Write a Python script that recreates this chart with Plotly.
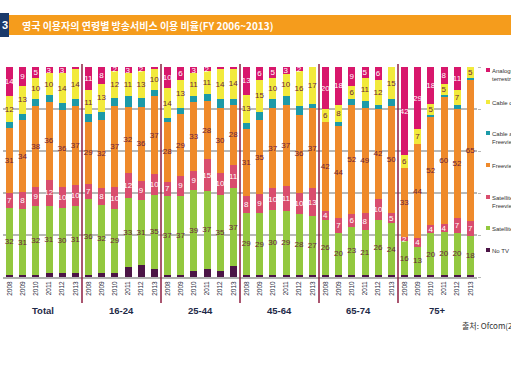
import plotly.graph_objects as go

groups = ["Total", "16-24", "25-44", "45-64", "65-74", "75+"]
years = ["2008", "2009", "2010", "2011", "2012", "2013"]

no_tv = [1, 1, 1, 2, 2, 2,  1, 2, 2, 5, 6, 4,  1, 1, 3, 4, 3, 5,  1, 1, 1, 1, 1, 1,  1, 1, 1, 1, 1, 1,  1, 1, 1, 1, 1, 1]
satellite = [32, 31, 32, 31, 30, 31,  36, 32, 29, 33, 31, 35,  37, 37, 39, 37, 35, 37,  29, 29, 30, 29, 28, 27,  26, 20, 23, 21, 26, 24,  16, 13, 20, 20, 20, 18]
sat_freeview = [7, 8, 9, 12, 10, 10,  7, 8, 10, 12, 9, 10,  7, 9, 9, 15, 10, 11,  8, 9, 10, 11, 10, 13,  4, 7, 6, 8, 10, 5,  2, 4, 4, 4, 7, 7]
freeview = [31, 34, 38, 36, 36, 37,  29, 32, 37, 32, 36, 37,  28, 29, 33, 28, 30, 28,  31, 35, 37, 37, 36, 37,  42, 44, 52, 49, 42, 50,  33, 44, 52, 60, 52, 65]
cable_freeview = [3, 3, 3, 3, 3, 3,  4, 4, 4, 5, 4, 3,  2, 3, 3, 3, 4, 3,  3, 4, 4, 4, 4, 2,  0, 2, 3, 3, 2, 3,  0, 0, 1, 1, 2, 1]
cable_only = [12, 13, 10, 10, 14, 14,  11, 13, 12, 11, 13, 10,  14, 13, 11, 11, 14, 14,  13, 15, 10, 10, 16, 17,  6, 8, 6, 11, 12, 15,  6, 7, 5, 5, 7, 5]
analogue = [14, 9, 5, 3, 3, 1,  11, 8, 2, 3, 2, 1,  10, 6, 3, 2, 1, 1,  13, 6, 5, 3, 2, 0,  20, 18, 9, 5, 6, 0,  42, 29, 18, 8, 11, 0]

series = [
    ("No TV", no_tv, "#4B1446", False, None),
    ("Satellite", satellite, "#93C83F", True, "#6B1E3C"),
    ("Satellite and<br>Freeview", sat_freeview, "#D94D6E", True, "#FFFFFF"),
    ("Freeview", freeview, "#EF8A2B", True, "#6B1E3C"),
    ("Cable and<br>Freeview", cable_freeview, "#1C9AA8", False, None),
    ("Cable only", cable_only, "#F2EA3C", True, "#6B1E3C"),
    ("Analogue<br>terrestrial", analogue, "#D8176C", True, "#FFFFFF"),
]
# legend row positions (pixel y of the first text line), bottom series first
legend_rows = [250, 228, 197, 165, 133, 102, 70]

cats = [f"{g} {y}" for g in groups for y in years]
ticktext = [y for g in groups for y in years]

FONT = "Arial, Liberation Sans, sans-serif"
fig = go.Figure()
for name, vals, color, labeled, tcol in series:
    text = [str(v) if (labeled and v >= 2) else "" for v in vals]
    fig.add_trace(go.Bar(
        x=cats, y=vals, name=name.replace("<br>", " "), marker=dict(color=color, line=dict(width=0)),
        text=text, textposition="inside", insidetextanchor="middle", textangle=0,
        textfont=dict(size=8, color=tcol or "#6B1E3C", family=FONT),
        showlegend=False, hoverinfo="skip",
    ))

W, H = 511, 365
L, R, T, B = 3, 34, 67, 88
pw, ph = W - L - R, H - T - B

def px(xp):
    return (xp - L) / pw

def py(yp):
    return (H - B - yp) / ph

shapes = []
for i in range(1, len(groups)):
    shapes.append(dict(type="line", xref="x", yref="paper", x0=i * 6 - 0.5, x1=i * 6 - 0.5,
                       y0=py(303), y1=py(64), line=dict(color="#8E1E40", width=1.5)))
# title band
shapes.append(dict(type="rect", xref="paper", yref="paper", x0=px(9), x1=px(512),
                   y0=py(35), y1=py(15), fillcolor="#F59C1C", line=dict(width=0), layer="above"))
shapes.append(dict(type="rect", xref="paper", yref="paper", x0=px(-2), x1=px(9),
                   y0=py(37), y1=py(13), fillcolor="#1B3A6B", line=dict(width=0), layer="above"))

annotations = [
    dict(text="<b>3</b>", xref="paper", yref="paper", x=px(0), y=py(25), xanchor="left", yanchor="middle",
         showarrow=False, font=dict(size=11, color="white", family="Arial, Liberation Sans")),
    dict(text="<b>영국 이용자의 연령별 방송서비스 이용 비율(FY 2006~2013)</b>", xref="paper", yref="paper",
         x=px(20), y=py(25), xanchor="left", yanchor="middle", showarrow=False,
         font=dict(size=10, color="white", family="Noto Sans CJK KR")),
    dict(text="출처: Ofcom(2014)", xref="paper", yref="paper", x=px(460), y=py(325),
         xanchor="left", yanchor="middle", showarrow=False,
         font=dict(size=8, color="#333333", family="Noto Sans CJK KR")),
]
for gi, g in enumerate(groups):
    annotations.append(dict(text=f"<b>{g}</b>", xref="x", yref="paper", x=gi * 6 + 2.5, y=py(310),
                            xanchor="center", yanchor="middle", showarrow=False,
                            font=dict(size=9.5, color="#1E2A48", family=FONT)))

# legend (drawn at the right edge, clipped by the page like the original)
for (name, vals, color, labeled, tcol), ly in zip(series, legend_rows):
    shapes.append(dict(type="rect", xref="paper", yref="paper", x0=px(486), x1=px(490),
                       y0=py(ly + 2), y1=py(ly - 2), fillcolor=color, line=dict(width=0)))
    annotations.append(dict(text=name, xref="paper", yref="paper", x=px(490), y=py(ly - 4),
                            xanchor="left", yanchor="top", align="left", showarrow=False,
                            font=dict(size=6, color="#333333", family=FONT)))

fig.update_layout(
    width=W, height=H, margin=dict(l=L, r=R, t=T, b=B, autoexpand=False),
    barmode="stack", barnorm="percent", bargap=0.47,
    plot_bgcolor="white", paper_bgcolor="white", showlegend=False,
    shapes=shapes, annotations=annotations,
    uniformtext=dict(minsize=8, mode="show"),
    xaxis=dict(type="category", tickvals=cats, ticktext=ticktext, tickangle=-90,
               tickfont=dict(size=6.5, color="#2a2a40", family=FONT), ticks="",
               showline=True, linecolor="#B0B0B0", linewidth=1.5, range=[-0.5, 35.5],
               automargin=False),
    yaxis=dict(range=[0, 100], dtick=20, showgrid=True, gridcolor="#B8B8B8", gridwidth=1.5,
               showticklabels=False, side="right", ticks="outside", ticklen=3, tickcolor="#B8B8B8",
               zeroline=False, automargin=False),
)

fig.write_html("out.html", config={"displayModeBar": False},
               post_script="document.body.style.margin='0';document.body.style.overflow='hidden';")
